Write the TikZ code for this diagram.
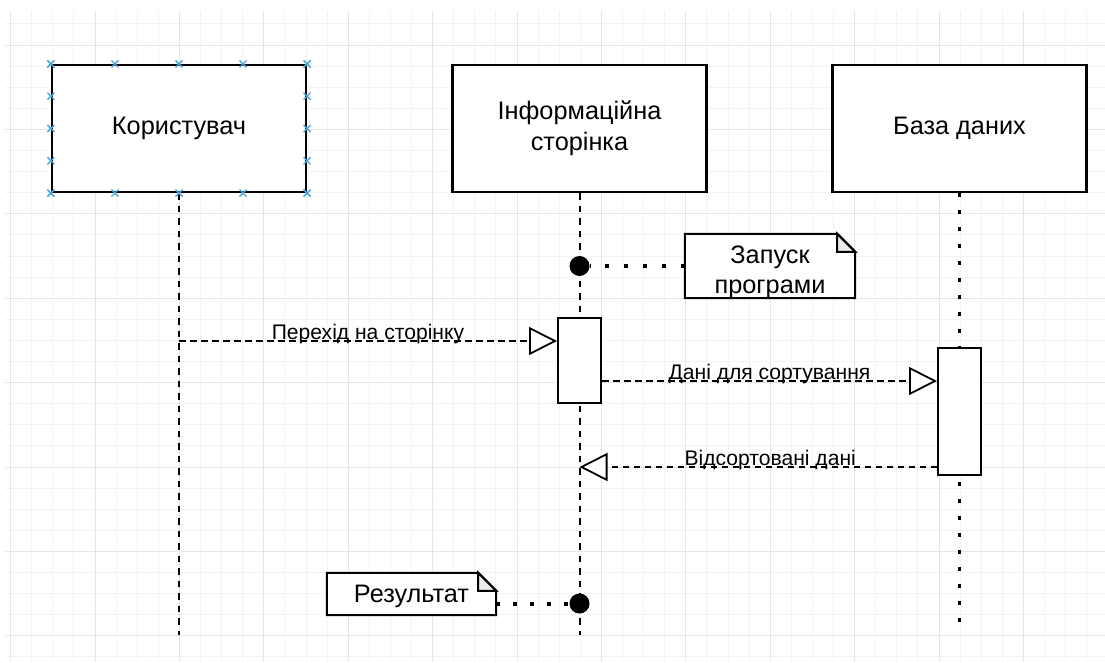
\documentclass[tikz,border=0pt]{standalone}
\usepackage{fontspec}
\setmainfont{Liberation Sans}
\usetikzlibrary{arrows.meta,calc,backgrounds}

\definecolor{gridminor}{HTML}{F3F3F3}
\definecolor{gridmajor}{HTML}{E6E6E6}
\definecolor{xblue}{HTML}{42A8DE}
\definecolor{foldgray}{HTML}{EBEBEB}

\pgfdeclarelayer{grid}
\pgfsetlayers{grid,background,main}

\tikzset{
  actor/.style={draw, line width=2.2pt, fill=white, minimum width=254pt, minimum height=127pt,
    inner sep=0pt, align=center, font=\fontsize{25.3}{30.6}\selectfont},
  activation/.style={draw, line width=2pt, fill=white, minimum width=43pt, minimum height=#1, inner sep=0pt},
  lifeline/.style={line width=2pt, dash pattern=on 6.5pt off 6pt},
  dotline/.style={line width=3.5pt, dash pattern=on 3.5pt off 13.5pt},
  msg/.style={line width=1.8pt, dash pattern=on 6.5pt off 4.5pt,
    -{Triangle[length=28pt, width=28pt, fill=white, line join=miter]}},
  msglabel/.style={anchor=base, yshift=1.5pt, inner sep=0pt, font=\fontsize{21.1}{25.3}\selectfont},
  event/.style={circle, fill=black, minimum size=20pt, inner sep=0pt},
  memo/.style={inner sep=0pt, minimum width=#1},
  memotext/.style={inner sep=0pt, align=center, font=\fontsize{25.3}{30.4}\selectfont},
  memoline/.style={line width=2pt, line join=miter},
  xmark/.style={draw=xblue, line width=1.3pt},
}

\begin{document}
\begin{tikzpicture}[x=1pt, y=-1pt]

\def\gs{21.1}
\path [use as bounding box] (0,0) rectangle (1105,662);

% GRID
\begin{pgfonlayer}{grid}
\foreach \k in {0,...,51} \draw [gridminor, line width=1pt] ({10.6+\gs*\k},11) -- ({10.6+\gs*\k},662);
\foreach \k in {0,...,30} \draw [gridminor, line width=1pt] (5,{23.9+\gs*\k}) -- (1105,{23.9+\gs*\k});
\foreach \k in {0,4,...,48} \draw [gridmajor, line width=1pt] ({10.6+\gs*\k},11) -- ({10.6+\gs*\k},662);
\foreach \k in {1,5,...,29} \draw [gridmajor, line width=1pt] (5,{23.9+\gs*\k}) -- (1105,{23.9+\gs*\k});
\end{pgfonlayer}

% ACTORS
\node [actor] (user) at (179,128.5) {Користувач};
\node [actor] (page) at (579.5,128.5) {Інформаційна\\сторінка};
\node [actor] (db) at (959.5,128.5) {База даних};
\coordinate (bottom) at (0,635);

% LIFELINES
\draw [lifeline] (user.south) -- (user.south |- bottom);
\draw [lifeline] (page.south) -- (page.south |- bottom);
\draw [dotline] (db.south) -- (db.south |- bottom);

% SELECTION MARKS
\foreach \t in {0,0.25,0.5,0.75,1} {
  \draw [xmark] ($(user.north west)!\t!(user.north east)$) +(-3.5,-3.5) -- +(3.5,3.5) +(-3.5,3.5) -- +(3.5,-3.5);
  \draw [xmark] ($(user.south west)!\t!(user.south east)$) +(-3.5,-3.5) -- +(3.5,3.5) +(-3.5,3.5) -- +(3.5,-3.5);
  \draw [xmark] ($(user.north west)!\t!(user.south west)$) +(-3.5,-3.5) -- +(3.5,3.5) +(-3.5,3.5) -- +(3.5,-3.5);
  \draw [xmark] ($(user.north east)!\t!(user.south east)$) +(-3.5,-3.5) -- +(3.5,3.5) +(-3.5,3.5) -- +(3.5,-3.5);
}

% ACTIVATIONS
\node [activation=85pt] (act1) at (579.5,360.5) {};
\node [activation=127pt] (act2) at (959.5,411.5) {};

% EVENTS
\node [event] (start) at (579.5,266) {};
\node [event] (finish) at (579.5,603.5) {};

% NOTES
\node [memo=170pt, minimum height=64pt] (launch) at (770,266) {};
\node [memo=169pt, minimum height=42pt] (result) at (411.5,594) {};
\node [memotext] (launchtext) at ([yshift=-6pt]launch.center) {Запуск\\програми};
\node [memotext] (resulttext) at ([yshift=-2pt]result.center) {Результат};
\begin{scope}[on background layer]
\foreach \n in {launch,result} {
  \draw [memoline, fill=white] (\n.north west) -- ($(\n.north east)+(-18,0)$) -- ($(\n.north east)+(0,18)$)
    -- (\n.south east) -- (\n.south west) -- cycle;
  \draw [memoline, fill=foldgray] ($(\n.north east)+(-18,0)$) -- ($(\n.north east)+(-18,18)$) -- ($(\n.north east)+(0,18)$) -- cycle;
}
\end{scope}
\draw [dotline, line width=4pt, dash pattern=on 4pt off 15pt] (launch.west) -- (start.east);
\draw [dotline, line width=4pt, dash pattern=on 4pt off 13pt] (result.east |- finish) -- (finish.west);

% MESSAGES
\coordinate (m1) at (user.south |- 0,341);
\coordinate (m2) at (act1.east |- 0,381);
\coordinate (m3) at (act2.west |- 0,467);
\draw [msg] (m1) -- (m1 -| act1.west) node [msglabel, midway] (l1) {Перехід на сторінку};
\draw [msg] (m2) -- (m2 -| act2.west) node [msglabel, midway] (l2) {Дані для сортування};
\draw [msg] (m3) -- (m3 -| page.south) node [msglabel, midway, xshift=12pt] (l3) {Відсортовані дані};

\end{tikzpicture}
\end{document}
